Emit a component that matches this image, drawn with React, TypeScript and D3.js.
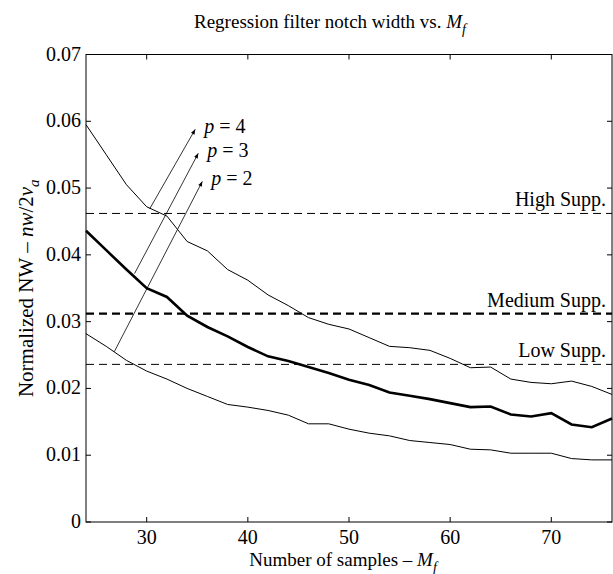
import React, { useEffect } from 'react';
import * as d3 from 'd3';

// samples M_f
const samples = [24, 26, 28, 30, 32, 34, 36, 38, 40, 42, 44, 46, 48, 50, 52, 54, 56, 58, 60, 62, 64, 66, 68, 70, 72, 74, 76];
// p = 4 (top thin curve)
const p4 = [0.0595, 0.0550, 0.0505, 0.0472, 0.0458, 0.0420, 0.0406, 0.0378, 0.0362, 0.0340, 0.0324, 0.0306, 0.0296, 0.0289, 0.0276, 0.0263, 0.0261, 0.0257, 0.0245, 0.0231, 0.0232, 0.0214, 0.0209, 0.0207, 0.0211, 0.0203, 0.0191];
// p = 3 (thick curve)
const p3 = [0.0436, 0.0407, 0.0378, 0.0350, 0.0337, 0.0309, 0.0292, 0.0278, 0.0262, 0.0248, 0.0241, 0.0232, 0.0223, 0.0213, 0.0205, 0.0194, 0.0189, 0.0184, 0.0178, 0.0172, 0.0173, 0.0161, 0.0158, 0.0163, 0.0146, 0.0142, 0.0155];
// p = 2 (bottom thin curve)
const p2 = [0.0282, 0.0263, 0.0242, 0.0226, 0.0214, 0.0200, 0.0188, 0.0176, 0.0172, 0.0167, 0.0160, 0.0147, 0.0147, 0.0139, 0.0133, 0.0129, 0.0122, 0.0119, 0.0116, 0.0109, 0.0108, 0.0103, 0.0103, 0.0103, 0.0095, 0.0093, 0.0093];

const suppNames = ['High Supp.', 'Medium Supp.', 'Low Supp.'];
const suppValues = [0.0462, 0.0312, 0.0236];

const xTicks = [30, 40, 50, 60, 70];
const yTicks = [0, 0.01, 0.02, 0.03, 0.04, 0.05, 0.06, 0.07];

// arrow annotations: [M, NW] at tail and head
const arrowLabels = ['4', '3', '2'];
const arrowFrom = [[30.3, 0.0469], [28.8, 0.0372], [26.8, 0.0255]];
const arrowTo = [[34.8, 0.0588], [35.1, 0.0552], [35.5, 0.0510]];

const FONT = '"Liberation Serif", "DejaVu Serif", serif';

export default function App() {
  useEffect(() => {
    document.body.style.margin = '0';
  }, []);

  const width = 613;
  const height = 574;
  const left = 86, right = 612, top = 54.5, bottom = 522;

  const x = d3.scaleLinear().domain([24, 76]).range([left, right]);
  const y = d3.scaleLinear().domain([0, 0.07]).range([bottom, top]);

  const line = d3.line<number>()
    .x((_, i) => x(samples[i]))
    .y((d) => y(d));

  const tick = 5;

  return (
    <svg width={width} height={height} style={{ display: 'block', background: '#fff' }} fontFamily={FONT}>
      <defs>
        <marker id="ah" viewBox="0 0 10 10" refX="10" refY="5" markerWidth="7" markerHeight="5" orient="auto" markerUnits="userSpaceOnUse">
          <path d="M0,1 L10,5 L0,9 z" fill="#000" />
        </marker>
      </defs>

      {/* title */}
      <text x={330} y={28} textAnchor="middle" fontSize={19}>
        Regression filter notch width vs. <tspan fontStyle="italic">M</tspan>
        <tspan fontStyle="italic" fontSize={14} dy={6}>f</tspan>
      </text>

      {/* supp lines */}
      {suppValues.map((v, i) => (
        <g key={suppNames[i]}>
          <line x1={left} x2={right} y1={y(v)} y2={y(v)} stroke="#000"
            strokeWidth={i === 1 ? 2.4 : 1} strokeDasharray="8,5" />
          <text x={606} y={y(v) - 7} textAnchor="end" fontSize={20}>{suppNames[i]}</text>
        </g>
      ))}

      {/* curves */}
      <path d={line(p4) || ''} fill="none" stroke="#000" strokeWidth={1} />
      <path d={line(p3) || ''} fill="none" stroke="#000" strokeWidth={2.6} />
      <path d={line(p2) || ''} fill="none" stroke="#000" strokeWidth={1} />

      {/* arrows */}
      {arrowLabels.map((lab, i) => (
        <g key={lab}>
          <line x1={x(arrowFrom[i][0])} y1={y(arrowFrom[i][1])} x2={x(arrowTo[i][0])} y2={y(arrowTo[i][1])}
            stroke="#000" strokeWidth={0.8} markerEnd="url(#ah)" />
          <text x={x(arrowTo[i][0]) + 9} y={y(arrowTo[i][1]) + 4} fontSize={20}>
            <tspan fontStyle="italic">p</tspan> = {lab}
          </text>
        </g>
      ))}

      {/* axes box */}
      <rect x={left} y={top} width={right - left} height={bottom - top} fill="none" stroke="#000" strokeWidth={1} />
      {xTicks.map((t) => (
        <g key={t}>
          <line x1={x(t)} x2={x(t)} y1={bottom} y2={bottom - tick} stroke="#000" />
          <line x1={x(t)} x2={x(t)} y1={top} y2={top + tick} stroke="#000" />
          <text x={x(t)} y={bottom + 22} textAnchor="middle" fontSize={20}>{t}</text>
        </g>
      ))}
      {yTicks.map((t) => (
        <g key={t}>
          <line x1={left} x2={left + tick} y1={y(t)} y2={y(t)} stroke="#000" />
          <line x1={right} x2={right - tick} y1={y(t)} y2={y(t)} stroke="#000" />
          <text x={left - 5} y={y(t) + 6} textAnchor="end" fontSize={20}>{t === 0 ? '0' : t.toFixed(2)}</text>
        </g>
      ))}

      {/* x label */}
      <text x={343} y={566} textAnchor="middle" fontSize={19}>
        Number of samples – <tspan fontStyle="italic">M</tspan>
        <tspan fontStyle="italic" fontSize={14} dy={6}>f</tspan>
      </text>

      {/* y label */}
      <text transform={`translate(33,${(top + bottom) / 2}) rotate(-90)`} textAnchor="middle" fontSize={21}>
        Normalized NW – <tspan fontStyle="italic">nw</tspan>/2<tspan fontStyle="italic">v</tspan>
        <tspan fontStyle="italic" fontSize={15} dy={6}>a</tspan>
      </text>
    </svg>
  );
}
